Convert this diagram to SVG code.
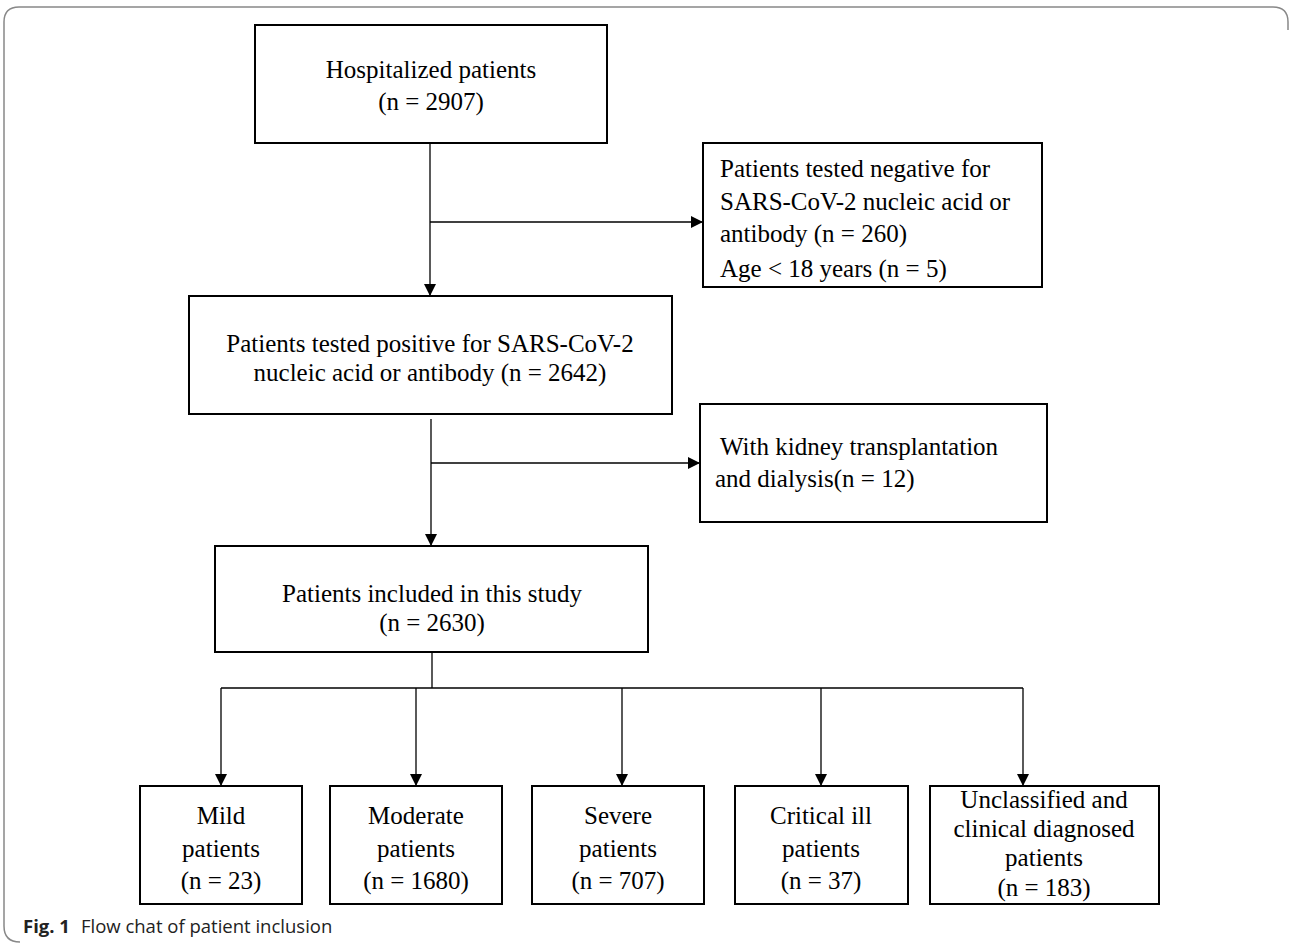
<svg xmlns="http://www.w3.org/2000/svg" width="1291" height="944" viewBox="0 0 1291 944">
<style>
.box{fill:#fff;stroke:#000;stroke-width:2}
.t{font-family:"Liberation Serif","Times New Roman",serif;font-size:25px;fill:#000}
.c{text-anchor:middle}
.ln{stroke:#000;stroke-width:1.3;fill:none}
.cap{font-family:"Open Sans","Noto Sans",sans-serif;font-size:18.5px;fill:#222}
</style>
<defs>
<marker id="ah" markerWidth="12" markerHeight="12" refX="11" refY="6" orient="auto" markerUnits="userSpaceOnUse">
<path d="M0,0 L12,6 L0,12 Z" fill="#000"/>
</marker>
</defs>
<rect width="1291" height="944" fill="#fff"/>
<path d="M20,942 Q4,942 4,926 L4,22 Q4,7 19,7 L1273,7 Q1288,7 1288,22 L1288,30" fill="none" stroke="#888" stroke-width="1.5"/>

<g id="connectors">
<line class="ln" x1="430" y1="143" x2="430" y2="295" marker-end="url(#ah)"/>
<line class="ln" x1="430" y1="222" x2="702" y2="222" marker-end="url(#ah)"/>
<line class="ln" x1="431" y1="419" x2="431" y2="545" marker-end="url(#ah)"/>
<line class="ln" x1="431" y1="463" x2="699" y2="463" marker-end="url(#ah)"/>
<line class="ln" x1="432" y1="653" x2="432" y2="688"/>
<line class="ln" x1="221" y1="688" x2="1023" y2="688" stroke-width="2"/>
<line class="ln" x1="221" y1="688" x2="221" y2="785" marker-end="url(#ah)"/>
<line class="ln" x1="416" y1="688" x2="416" y2="785" marker-end="url(#ah)"/>
<line class="ln" x1="622" y1="688" x2="622" y2="785" marker-end="url(#ah)"/>
<line class="ln" x1="821" y1="688" x2="821" y2="785" marker-end="url(#ah)"/>
<line class="ln" x1="1023" y1="688" x2="1023" y2="785" marker-end="url(#ah)"/>
</g>

<g id="hospitalized">
<rect class="box" x="255" y="25" width="352" height="118"/>
<text class="t c" x="431" y="78">Hospitalized patients</text>
<text class="t c" x="431" y="110">(n = 2907)</text>
</g>

<g id="negative">
<rect class="box" x="703" y="143" width="339" height="144"/>
<text class="t" x="720" y="177">Patients tested negative for</text>
<text class="t" x="720" y="210">SARS-CoV-2 nucleic acid or</text>
<text class="t" x="720" y="242">antibody (n = 260)</text>
<text class="t" x="720" y="277">Age &lt; 18 years (n = 5)</text>
</g>

<g id="positive">
<rect class="box" x="189" y="296" width="483" height="118"/>
<text class="t c" x="430" y="352">Patients tested positive for SARS-CoV-2</text>
<text class="t c" x="430" y="381">nucleic acid or antibody (n = 2642)</text>
</g>

<g id="kidney">
<rect class="box" x="700" y="404" width="347" height="118"/>
<text class="t" x="720" y="455">With kidney transplantation</text>
<text class="t" x="715" y="487">and dialysis(n = 12)</text>
</g>

<g id="included">
<rect class="box" x="215" y="546" width="433" height="106"/>
<text class="t c" x="432" y="602">Patients included in this study</text>
<text class="t c" x="432" y="631">(n = 2630)</text>
</g>

<g id="mild">
<rect class="box" x="140" y="786" width="162" height="118"/>
<text class="t c" x="221" y="824">Mild</text>
<text class="t c" x="221" y="857">patients</text>
<text class="t c" x="221" y="889">(n = 23)</text>
</g>

<g id="moderate">
<rect class="box" x="330" y="786" width="172" height="118"/>
<text class="t c" x="416" y="824">Moderate</text>
<text class="t c" x="416" y="857">patients</text>
<text class="t c" x="416" y="889">(n = 1680)</text>
</g>

<g id="severe">
<rect class="box" x="532" y="786" width="172" height="118"/>
<text class="t c" x="618" y="824">Severe</text>
<text class="t c" x="618" y="857">patients</text>
<text class="t c" x="618" y="889">(n = 707)</text>
</g>

<g id="critical">
<rect class="box" x="735" y="786" width="173" height="118"/>
<text class="t c" x="821" y="824">Critical ill</text>
<text class="t c" x="821" y="857">patients</text>
<text class="t c" x="821" y="889">(n = 37)</text>
</g>

<g id="unclassified">
<rect class="box" x="930" y="786" width="229" height="118"/>
<text class="t c" x="1044" y="808">Unclassified and</text>
<text class="t c" x="1044" y="837">clinical diagnosed</text>
<text class="t c" x="1044" y="866">patients</text>
<text class="t c" x="1044" y="896">(n = 183)</text>
</g>

<g id="caption">
<text class="cap" x="23" y="933"><tspan font-weight="bold">Fig. 1</tspan><tspan dx="11">Flow chat of patient inclusion</tspan></text>
</g>
</svg>
